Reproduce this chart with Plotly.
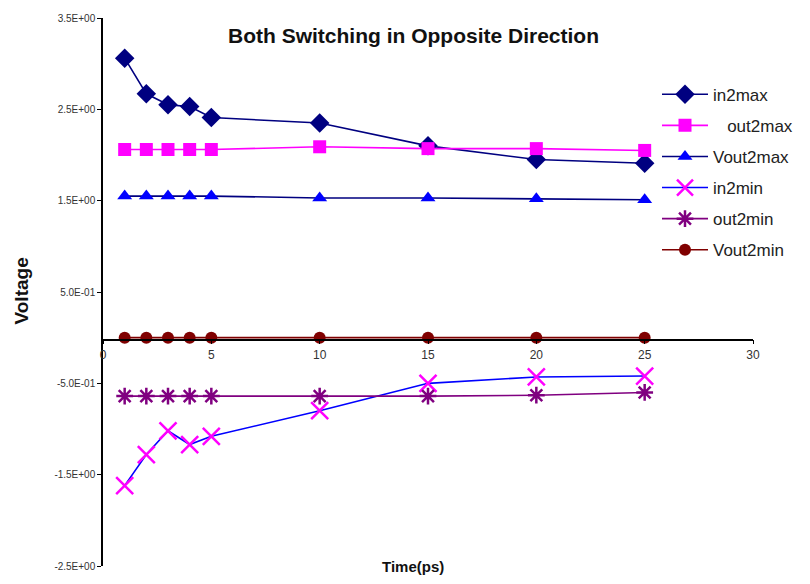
import plotly.graph_objects as go

time_ps = [1, 2, 3, 4, 5, 10, 15, 20, 25]
in2max = [3.06, 2.67, 2.55, 2.53, 2.41, 2.35, 2.10, 1.95, 1.91]
out2max = [2.06, 2.06, 2.06, 2.06, 2.06, 2.09, 2.07, 2.07, 2.05]
vout2max = [1.55, 1.55, 1.55, 1.55, 1.55, 1.53, 1.53, 1.52, 1.51]
in2min = [-1.62, -1.28, -1.02, -1.17, -1.08, -0.80, -0.50, -0.43, -0.42]
out2min = [-0.64, -0.64, -0.64, -0.64, -0.64, -0.64, -0.64, -0.63, -0.60]
vout2min = [0, 0, 0, 0, 0, 0, 0, 0, 0]

y_tickvals = [3.5, 2.5, 1.5, 0.5, -0.5, -1.5, -2.5]
y_ticktext = ["3.5E+00", "2.5E+00", "1.5E+00", "5.0E-01", "-5.0E-01", "-1.5E+00", "-2.5E+00"]
x_tickvals = [0, 5, 10, 15, 20, 25, 30]

series = [
    ("in2max", in2max, "#000080", "#000080", "diamond", 15, None),
    ("\u00a0\u00a0\u00a0out2max", out2max, "#FF00FF", "#FF00FF", "square", 13, None),
    ("Vout2max", vout2max, "#000080", "#0000FF", "triangle-up", 13, None),
    ("in2min", in2min, "#0000FF", "#FF00FF", "x-thin", 17, 2.5),
    ("out2min", out2min, "#800080", "#800080", "asterisk", 14, 2.5),
    ("Vout2min", vout2min, "#800000", "#800000", "circle", 12, None),
]

fig = go.Figure()
for i, (name, vals, lcol, mcol, sym, msize, mlw) in enumerate(series):
    marker = dict(symbol=sym, size=msize, color=mcol)
    if mlw is not None:
        marker["line"] = dict(color=mcol, width=mlw)
    fig.add_trace(go.Scatter(
        x=time_ps, y=vals, name=name, mode="lines+markers",
        line=dict(color=lcol, width=1.6), marker=marker,
        legendgroup=f"g{i}",
    ))

L, R, T, B = 103, 57, 15, 18
W, H = 810, 584
plot_w = W - L - R
plot_h = H - T - B
y0_frac = (566 - 338.5) / plot_h


def px(xp):
    return (xp - L) / plot_w


def py(yp):
    return (H - yp - B) / plot_h


fig.update_layout(
    width=W, height=H,
    margin=dict(l=L, r=R, t=T, b=B),
    paper_bgcolor="white", plot_bgcolor="white",
    font=dict(family="Liberation Sans, Arial", color="#222"),
    showlegend=True,
    legend=dict(
        x=px(657), y=py(74),
        xanchor="left", yanchor="top",
        bgcolor="rgba(0,0,0,0)", font=dict(size=17, color="#222"),
        tracegroupgap=6, itemwidth=46,
    ),
    xaxis=dict(
        range=[0, 30], tickvals=x_tickvals, anchor="free", position=y0_frac,
        showline=True, linecolor="black", linewidth=1.5, ticks="outside",
        ticklen=4, tickcolor="black", showgrid=False, zeroline=False,
        tickfont=dict(size=12, color="#333"),
    ),
    yaxis=dict(
        range=[-2.5, 3.5], tickvals=y_tickvals, ticktext=y_ticktext,
        showline=True, linecolor="black", linewidth=1.5, ticks="outside",
        ticklen=4, tickcolor="black", showgrid=False, zeroline=False,
        tickfont=dict(size=10, color="#333"),
    ),
    annotations=[
        dict(text="<b>Both Switching in Opposite Direction</b>", x=px(413), y=py(33),
             xref="paper", yref="paper", showarrow=False, xanchor="center", yanchor="middle",
             font=dict(size=21, color="#111")),
        dict(text="<b>Voltage</b>", x=px(22), y=py(290), textangle=-90,
             xref="paper", yref="paper", showarrow=False, xanchor="center", yanchor="middle",
             font=dict(size=19, color="#111")),
        dict(text="<b>Time(ps)</b>", x=px(413), y=py(566),
             xref="paper", yref="paper", showarrow=False, xanchor="center", yanchor="middle",
             font=dict(size=15, color="#111")),
    ],
)

fig.write_html("out.html")
